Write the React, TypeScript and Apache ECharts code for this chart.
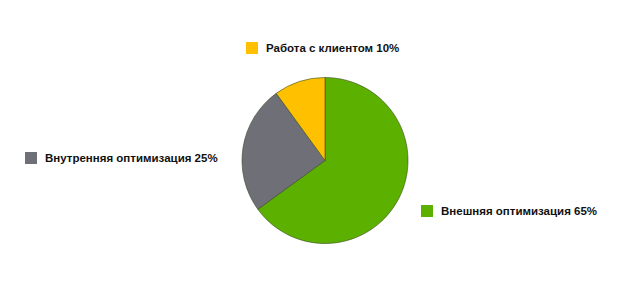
import React, { useEffect, useRef } from "react";
import * as echarts from "echarts";

const categories = ["Внешняя оптимизация", "Внутренняя оптимизация", "Работа с клиентом"];
const values = [65, 25, 10];
const colors = ["#5cb000", "#6f6f78", "#ffc000"];
const legendPos = [
  { left: 421, top: 205 },
  { left: 25, top: 152 },
  { left: 246, top: 42 },
];

export default function App() {
  const ref = useRef<HTMLDivElement>(null);
  useEffect(() => {
    if (!ref.current) return;
    const chart = echarts.init(ref.current, null, { renderer: "svg" });
    const data = categories.map((name, i) => ({
      name,
      value: values[i],
      itemStyle: { color: colors[i] },
    }));
    chart.setOption({
      animation: false,
      backgroundColor: "#ffffff",
      legend: categories.map((name, i) => ({
        data: [name],
        left: legendPos[i].left,
        top: legendPos[i].top,
        padding: 0,
        orient: "horizontal",
        icon: "rect",
        itemWidth: 12,
        itemHeight: 12,
        selectedMode: false,
        itemStyle: { borderWidth: 0 },
        formatter: (n: string) => `${n} ${values[categories.indexOf(n)]}%`,
        textStyle: {
          fontFamily: "Liberation Sans, Arial, sans-serif",
          fontWeight: "bold",
          fontSize: 11.5,
          color: "#111111",
          padding: [0, 0, 0, 3],
        },
      })),
      series: [
        {
          type: "pie",
          center: [325, 160.5],
          radius: 83,
          startAngle: 90,
          clockwise: true,
          label: { show: false },
          labelLine: { show: false },
          emphasis: { disabled: true },
          itemStyle: { borderColor: "#3a4a20", borderWidth: 0.6 },
          data,
        },
      ],
    });
    return () => chart.dispose();
  }, []);
  return <div ref={ref} style={{ width: 620, height: 281, position: "absolute", left: 0, top: 0 }} />;
}
